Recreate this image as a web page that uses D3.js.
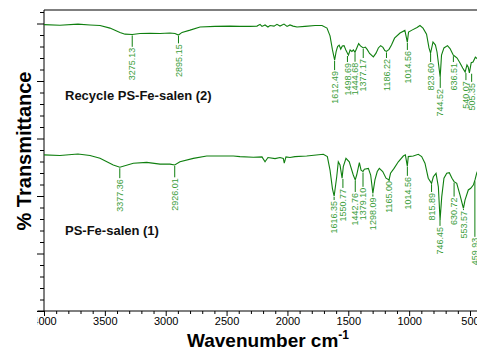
<!DOCTYPE html>
<html><head><meta charset="utf-8">
<script src="https://cdn.jsdelivr.net/npm/d3@7"></script>
<style>body{margin:0;background:#fff} svg{display:block;font-family:"Liberation Sans",Arial,sans-serif}</style>
</head><body><svg id="c" width="477" height="352"></svg>
<script>
// ---- data ----
const recycleWn = [4000,3869,3721,3622,3540,3458,3376,3334,3275,3211,3129,3047,2965,2924,2895,2866,2800,2718,2595,2472,2390,2308,2250,2225,2209,2184,2160,2143,2110,2086,2061,2028,2003,1979,1954,1921,1856,1773,1716,1675,1650,1630,1612,1600,1588,1575,1562,1549,1535,1520,1499,1485,1470,1458,1445,1430,1415,1400,1377,1360,1345,1325,1294,1272,1253,1234,1215,1200,1186,1165,1145,1120,1075,1035,1015,1005,977,935,911,886,857,837,824,804,784,771,745,734,714,685,664,644,637,627,606,582,560,540,525,515,505,490,475,456,442,420];
const recycleT = [99.6,99.4,99.8,99.5,99.3,98.4,96.9,96.3,96.2,96.5,96.6,96.5,96.7,96.5,96.0,96.9,97.7,98.8,99.0,99.1,99.0,99.0,99.1,99.7,99.0,99.5,98.8,99.3,99.1,99.7,99.1,99.8,99.0,99.5,99.1,98.8,99.0,99.3,99.3,98.4,95.7,90.8,87.3,90.2,92.0,92.5,91.1,92.2,92.3,90.8,89.0,90.8,90.3,90.8,90.0,91.5,93.0,92.2,91.5,91.8,91.0,89.6,88.4,89.7,91.5,92.3,91.7,90.6,90.3,91.0,92.5,94.9,96.7,97.6,93.5,97.0,97.7,98.6,99.3,98.4,96.3,91.5,89.7,93.6,92.5,90.1,81.4,89.0,91.5,92.3,91.3,89.6,89.0,88.7,88.0,86.3,84.5,83.1,85.6,84.9,82.8,86.4,86.6,88.3,87.8,88.5];
const freshWn = [4000,3869,3721,3622,3540,3431,3377,3266,3156,3047,2965,2926,2883,2773,2663,2444,2390,2280,2209,2184,2160,2102,2061,2034,2026,2012,1979,1938,1842,1705,1672,1650,1630,1616,1595,1582,1568,1551,1541,1519,1492,1459,1443,1431,1409,1395,1379,1368,1335,1316,1298,1281,1262,1245,1217,1190,1165,1153,1124,1089,1048,1031,1015,1007,966,925,897,870,843,816,801,779,760,746,732,714,691,670,648,631,609,582,554,541,514,494,473,459,445,418];
const freshT = [54.3,54.1,54.6,54.1,53.1,50.8,50.0,51.4,51.7,51.1,51.1,50.8,51.9,53.1,53.9,53.9,53.7,53.5,53.6,51.9,53.4,53.0,53.4,53.1,51.4,53.6,53.4,53.7,53.9,54.5,53.7,49.0,42.5,40.0,46.7,51.9,50.8,46.2,50.2,53.1,51.9,47.3,45.6,47.3,51.6,49.0,48.5,49.3,49.6,47.3,40.9,45.6,48.5,49.6,48.5,46.2,45.6,47.9,49.6,51.9,53.9,54.3,50.4,53.7,53.9,54.5,53.7,51.4,46.2,44.4,46.7,47.9,43.2,31.7,39.8,46.2,47.9,48.1,46.2,45.0,44.4,40.3,35.7,38.6,42.1,42.7,43.8,45.6,47.9,50.8];
const recyclePeaks = ["3275.13","2895.15","1612.49","1498.69","1444.68","1377.17","1186.22","1014.56","823.60","744.52","636.51","540.07","505.35"];
const recycleLabelT = [91.9,93.1,83.8,86.6,86.7,88.0,88.0,90.8,86.6,77.6,86.6,80.3,79.7];
const freshPeaks = ["3377.36","2926.01","1616.35","1550.77","1442.76","1379.10","1298.09","1165.00","1014.56","815.89","746.45","630.72","553.57","459.93"];
const freshLabelT = [46.2,46.5,38.6,42.8,41.4,43.2,39.8,45.6,47.0,41.4,29.6,39.8,35.1,25.8];
const seriesNames = ["Recycle PS-Fe-salen (2)","PS-Fe-salen (1)"];
const xMajor = [4000,3500,3000,2500,2000,1500,1000,500];

(function(){
// ---- layout ----
const svg = d3.select("#c");
const mLeft = 44, mTop = 10, mBottom = 311;
const x = d3.scaleLinear().domain([4000, 500]).range([mLeft, 470]);
const y = d3.scaleLinear().domain([0, 104.7]).range([mBottom, mTop]);
const green = "#0f7f0f", labelGreen = "#3a9d3a";
// small horizontal nudges (px) applied to crowded peak labels
const recycleNudge = {"1498.69": -1, "540.07": 0.8, "505.35": 2.3};
const freshNudge = {"1550.77": 0.8};

svg.append("defs").append("clipPath").attr("id","xc")
  .append("rect").attr("x",37.5).attr("y",0).attr("width",500).attr("height",352);

// top border
svg.append("line").attr("x1",mLeft).attr("x2",477).attr("y1",mTop).attr("y2",mTop)
  .attr("stroke","#555").attr("stroke-width",1.3);

// y axis
const yAxis = d3.axisLeft(y).tickValues(d3.range(0, 105, 4)).tickFormat("").tickSize(4).tickSizeOuter(0);
const gy = svg.append("g").attr("transform",`translate(${mLeft},0)`).call(yAxis);
gy.select(".domain").remove();
gy.selectAll(".tick line").attr("stroke","#000").attr("x2", d => d % 20 === 0 ? -7 : -4);
svg.append("line").attr("x1",mLeft).attr("x2",mLeft).attr("y1",mTop).attr("y2",mBottom).attr("stroke","#000");

// x axis
const xAxis = d3.axisBottom(x).tickValues(d3.range(4000, 399, -100))
  .tickFormat(d => xMajor.includes(d) ? d : "").tickSize(3).tickSizeOuter(0).tickPadding(3);
const gx = svg.append("g").attr("clip-path","url(#xc)").append("g")
  .attr("transform",`translate(0,${mBottom})`).call(xAxis);
gx.select(".domain").remove();
gx.selectAll(".tick line").attr("stroke","#000").attr("y2", d => xMajor.includes(d) ? 5 : 3);
gx.selectAll(".tick text").attr("font-size",11).attr("font-family","'Liberation Sans',Arial,sans-serif").attr("fill","#000");
gx.append("line").attr("x1",36).attr("x2",477).attr("y1",0).attr("y2",0).attr("stroke","#000");

// spectra
const line = d3.line().x(d => x(d[0])).y(d => y(d[1]));
const spectra = [d3.zip(recycleWn, recycleT), d3.zip(freshWn, freshT)];
svg.selectAll("path.spec").data(spectra).join("path").attr("class","spec")
  .attr("d", line).attr("fill","none").attr("stroke",green).attr("stroke-width",1.1);

function tAt(wn, t, w) {
  for (let i = 0; i < wn.length - 1; i++) {
    if (wn[i] >= w && w >= wn[i+1]) {
      const f = (wn[i] - w) / (wn[i] - wn[i+1]);
      return t[i] + f * (t[i+1] - t[i]);
    }
  }
  return t[t.length-1];
}

function drawPeaks(peaks, labelT, wn, t, nudge) {
  const g = svg.append("g");
  peaks.forEach((p, i) => {
    const w = +p, px = x(w) + (nudge[p] || 0);
    const yc = y(tAt(wn, t, w)) + 1;
    const yl = y(labelT[i]);
    g.append("line").attr("x1",px).attr("x2",px).attr("y1",yc).attr("y2",yl)
      .attr("stroke",green).attr("stroke-width",1);
    g.append("text").attr("transform",`translate(${px},${yl + 1}) rotate(-90)`)
      .attr("text-anchor","end").attr("dy","0.35em").attr("font-size",9)
      .attr("fill",labelGreen).text(p);
  });
}
drawPeaks(recyclePeaks, recycleLabelT, recycleWn, recycleT, recycleNudge);
drawPeaks(freshPeaks, freshLabelT, freshWn, freshT, freshNudge);

// series names
const nameY = [100, 235];
svg.selectAll("text.name").data(seriesNames).join("text").attr("class","name")
  .attr("x",65).attr("y",(d,i) => nameY[i]).attr("font-size",13).attr("font-weight","bold")
  .attr("fill","#111").text(d => d);

// axis titles
svg.append("text").attr("transform","translate(31,151) rotate(-90)").attr("text-anchor","middle")
  .attr("font-size",20).attr("font-weight","bold").attr("fill","#000").text("% Transmittance");
const xt = svg.append("text").attr("x",268).attr("y",347).attr("text-anchor","middle")
  .attr("font-size",19).attr("font-weight","bold").attr("fill","#000");
xt.append("tspan").text("Wavenumber cm");
xt.append("tspan").attr("font-size",12).attr("dy",-8).text("-1");
})();
</script></body></html>
